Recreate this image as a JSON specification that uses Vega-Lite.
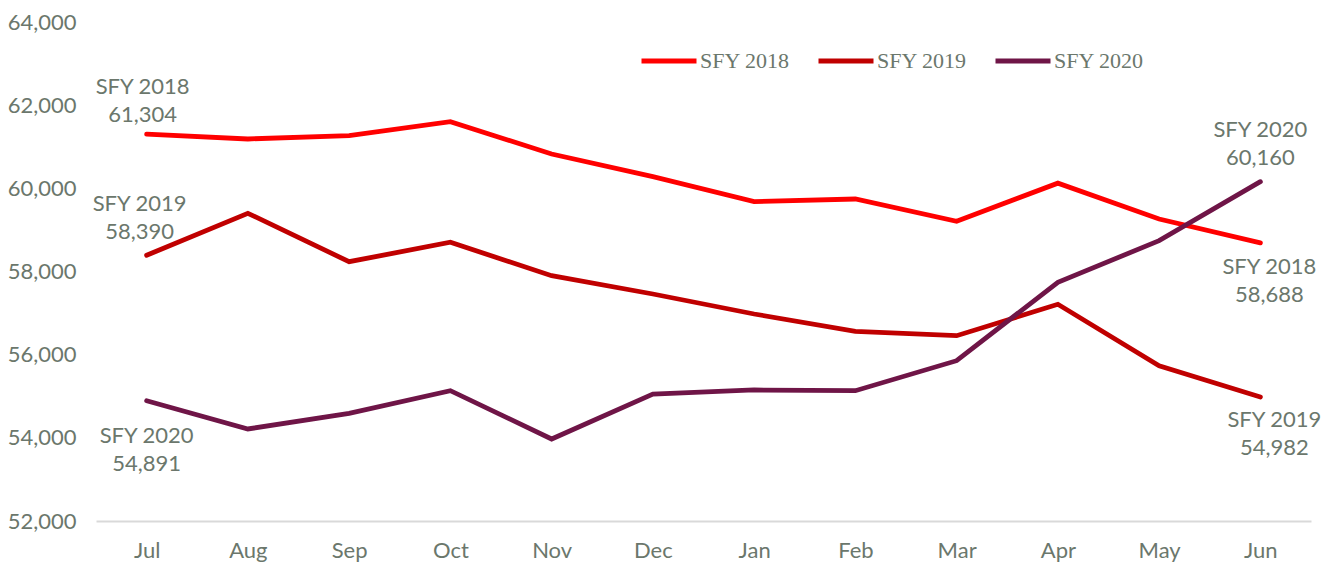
{
  "$schema": "https://vega.github.io/schema/vega-lite/v6.json",
  "width": 1215,
  "height": 499,
  "autosize": {"type": "none"},
  "padding": {"left": 96, "top": 22, "right": 25, "bottom": 42},
  "background": "white",
  "config": {"view": {"stroke": null}, "font": "Lato"},
  "data": {
    "values": [
      {"month": "Jul", "series": "SFY 2018", "value": 61304},
      {"month": "Aug", "series": "SFY 2018", "value": 61187},
      {"month": "Sep", "series": "SFY 2018", "value": 61266},
      {"month": "Oct", "series": "SFY 2018", "value": 61603},
      {"month": "Nov", "series": "SFY 2018", "value": 60826},
      {"month": "Dec", "series": "SFY 2018", "value": 60280},
      {"month": "Jan", "series": "SFY 2018", "value": 59679},
      {"month": "Feb", "series": "SFY 2018", "value": 59744},
      {"month": "Mar", "series": "SFY 2018", "value": 59208},
      {"month": "Apr", "series": "SFY 2018", "value": 60124},
      {"month": "May", "series": "SFY 2018", "value": 59263},
      {"month": "Jun", "series": "SFY 2018", "value": 58688},
      {"month": "Jul", "series": "SFY 2019", "value": 58390},
      {"month": "Aug", "series": "SFY 2019", "value": 59400},
      {"month": "Sep", "series": "SFY 2019", "value": 58236},
      {"month": "Oct", "series": "SFY 2019", "value": 58703},
      {"month": "Nov", "series": "SFY 2019", "value": 57899},
      {"month": "Dec", "series": "SFY 2019", "value": 57459},
      {"month": "Jan", "series": "SFY 2019", "value": 56978},
      {"month": "Feb", "series": "SFY 2019", "value": 56562},
      {"month": "Mar", "series": "SFY 2019", "value": 56456},
      {"month": "Apr", "series": "SFY 2019", "value": 57212},
      {"month": "May", "series": "SFY 2019", "value": 55735},
      {"month": "Jun", "series": "SFY 2019", "value": 54982},
      {"month": "Jul", "series": "SFY 2020", "value": 54891},
      {"month": "Aug", "series": "SFY 2020", "value": 54213},
      {"month": "Sep", "series": "SFY 2020", "value": 54590},
      {"month": "Oct", "series": "SFY 2020", "value": 55134},
      {"month": "Nov", "series": "SFY 2020", "value": 53972},
      {"month": "Dec", "series": "SFY 2020", "value": 55054},
      {"month": "Jan", "series": "SFY 2020", "value": 55151},
      {"month": "Feb", "series": "SFY 2020", "value": 55134},
      {"month": "Mar", "series": "SFY 2020", "value": 55855},
      {"month": "Apr", "series": "SFY 2020", "value": 57741},
      {"month": "May", "series": "SFY 2020", "value": 58741},
      {"month": "Jun", "series": "SFY 2020", "value": 60160}
    ]
  },
  "encoding": {
    "x": {
      "field": "month",
      "type": "ordinal",
      "sort": ["Jul", "Aug", "Sep", "Oct", "Nov", "Dec", "Jan", "Feb", "Mar", "Apr", "May", "Jun"],
      "scale": {"type": "point", "padding": 0.5},
      "axis": {
        "title": null,
        "labelAngle": 0,
        "domain": true,
        "domainColor": "#D9D9D9",
        "domainWidth": 2,
        "ticks": false,
        "grid": false,
        "labelFontSize": 22,
        "labelColor": "#6B776C",
        "labelPadding": 19
      }
    },
    "y": {
      "field": "value",
      "type": "quantitative",
      "scale": {"domain": [52000, 64000], "nice": false, "zero": false},
      "axis": {
        "title": null,
        "values": [52000, 54000, 56000, 58000, 60000, 62000, 64000],
        "format": ",.0f",
        "domain": false,
        "ticks": false,
        "grid": false,
        "labelFontSize": 22,
        "labelColor": "#6B776C",
        "labelPadding": 20
      }
    }
  },
  "layer": [
    {
      "mark": {"type": "line", "strokeWidth": 4.8, "strokeCap": "round", "strokeJoin": "miter"},
      "encoding": {
        "color": {
          "field": "series",
          "type": "nominal",
          "scale": {"domain": ["SFY 2018", "SFY 2019", "SFY 2020"], "range": ["#FF0000", "#C00000", "#6F1547"]},
          "legend": {
            "orient": "none",
            "legendX": 543,
            "legendY": 9,
            "direction": "horizontal",
            "title": null,
            "symbolType": "stroke",
            "symbolSize": 3025,
            "symbolStrokeWidth": 4.8,
            "labelFont": "Liberation Serif",
            "labelFontSize": 22,
            "labelColor": "#6B776C",
            "labelOffset": 1,
            "columnPadding": 18
          }
        }
      }
    },
    {
      "transform": [
        {"filter": "datum.series == 'SFY 2018' && datum.month == 'Jul'"},
        {"calculate": "[datum.series, format(datum.value, ',')]", "as": "label"}
      ],
      "mark": {"type": "text", "baseline": "bottom", "dy": -35, "dx": -4, "fontSize": 22, "lineHeight": 28, "color": "#6B776C"},
      "encoding": {"text": {"field": "label", "type": "nominal"}}
    },
    {
      "transform": [
        {"filter": "datum.series == 'SFY 2019' && datum.month == 'Jul'"},
        {"calculate": "[datum.series, format(datum.value, ',')]", "as": "label"}
      ],
      "mark": {"type": "text", "baseline": "bottom", "dy": -39, "dx": -7, "fontSize": 22, "lineHeight": 28, "color": "#6B776C"},
      "encoding": {"text": {"field": "label", "type": "nominal"}}
    },
    {
      "transform": [
        {"filter": "datum.series == 'SFY 2020' && datum.month == 'Jul'"},
        {"calculate": "[datum.series, format(datum.value, ',')]", "as": "label"}
      ],
      "mark": {"type": "text", "baseline": "top", "dy": 25, "dx": 0, "fontSize": 22, "lineHeight": 28, "color": "#6B776C"},
      "encoding": {"text": {"field": "label", "type": "nominal"}}
    },
    {
      "transform": [
        {"filter": "datum.series == 'SFY 2020' && datum.month == 'Jun'"},
        {"calculate": "[datum.series, format(datum.value, ',')]", "as": "label"}
      ],
      "mark": {"type": "text", "baseline": "bottom", "dy": -40, "dx": 0, "fontSize": 22, "lineHeight": 28, "color": "#6B776C"},
      "encoding": {"text": {"field": "label", "type": "nominal"}}
    },
    {
      "transform": [
        {"filter": "datum.series == 'SFY 2018' && datum.month == 'Jun'"},
        {"calculate": "[datum.series, format(datum.value, ',')]", "as": "label"}
      ],
      "mark": {"type": "text", "baseline": "top", "dy": 14, "dx": 9, "fontSize": 22, "lineHeight": 28, "color": "#6B776C"},
      "encoding": {"text": {"field": "label", "type": "nominal"}}
    },
    {
      "transform": [
        {"filter": "datum.series == 'SFY 2019' && datum.month == 'Jun'"},
        {"calculate": "[datum.series, format(datum.value, ',')]", "as": "label"}
      ],
      "mark": {"type": "text", "baseline": "top", "dy": 13, "dx": 14, "fontSize": 22, "lineHeight": 28, "color": "#6B776C"},
      "encoding": {"text": {"field": "label", "type": "nominal"}}
    }
  ]
}
